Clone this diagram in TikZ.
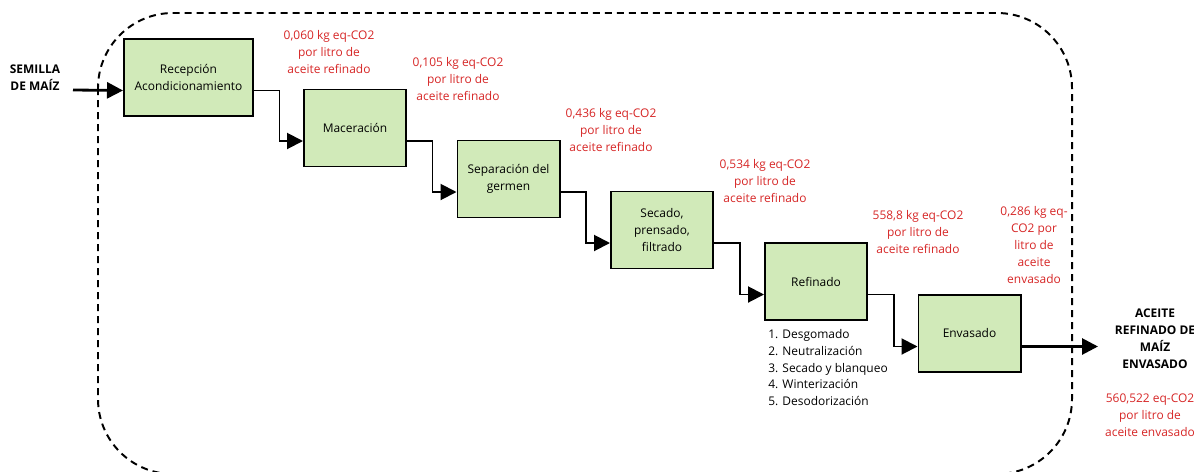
\documentclass[tikz,border=0pt]{standalone}
\usepackage{fontspec}
\setmainfont{Open Sans}
\usetikzlibrary{arrows.meta}
\definecolor{stagegreen}{RGB}{209,234,185}
\definecolor{co2red}{RGB}{214,38,38}
\tikzset{
  stage/.style={draw, line width=1.4pt, fill=stagegreen, minimum width=2.55cm, minimum height=1.925cm, align=center, font=\fontsize{8.5}{12}\selectfont},
  conn/.style={line width=1.4pt, -{Triangle[length=0.4cm,width=0.4cm]}},
  co2/.style={text=co2red, align=center, font=\fontsize{8.5}{12}\selectfont},
  endlabel/.style={align=center, font=\fontsize{8.5}{12}\selectfont\bfseries},
  frame/.style={line width=1.4pt, dash pattern=on 0.175cm off 0.125cm, rounded corners=1.875cm}
}
\begin{document}
\begin{tikzpicture}[x=0.025cm, y=-0.025cm]
\useasboundingbox (0,0) rectangle (1194,472);

\begin{scope}
\clip (0,0) rectangle (1194,472);
\draw [frame] (98,13) rectangle (1072,474);
\end{scope}

\node [stage, minimum width=3.225cm] (rec) at (188.5,77.5) {Recepción\\Acondicionamiento};
\node [stage] (mac) at (355,128) {Maceración};
\node [stage] (sep) at (508.5,179) {Separación del\\germen};
\node [stage] (sec) at (662,230) {Secado,\\prensado,\\filtrado};
\node [stage] (ref) at (816,281.5) {Refinado};
\node [stage] (env) at (969.5,333.5) {Envasado};

\coordinate (rec-i) at ([yshift=-0.325cm]rec.west);
\coordinate (rec-o) at ([yshift=-0.325cm]rec.east);
\coordinate (mac-i) at ([yshift=-0.325cm]mac.west);
\coordinate (mac-o) at ([yshift=-0.325cm]mac.east);
\coordinate (sep-i) at ([yshift=-0.325cm]sep.west);
\coordinate (sep-o) at ([yshift=-0.325cm]sep.east);
\coordinate (sec-i) at ([yshift=-0.325cm]sec.west);
\coordinate (sec-o) at ([yshift=-0.325cm]sec.east);
\coordinate (ref-i) at ([yshift=-0.325cm]ref.west);
\coordinate (ref-o) at ([yshift=-0.325cm]ref.east);
\coordinate (env-i) at ([yshift=-0.325cm]env.west);
\coordinate (env-o) at ([yshift=-0.325cm]env.east);

\draw [conn] (rec-o) -- ++(25.5,0) |- (mac-i);
\draw [conn] (mac-o) -- ++(25.5,0) |- (sep-i);
\draw [conn] (sep-o) -- ++(25.5,0) |- (sec-i);
\draw [conn] (sec-o) -- ++(26,0) |- (ref-i);
\draw [conn] (ref-o) -- ++(26,0) |- (env-i);

% entrada y salida
\node [endlabel] (seed) at (35,77.5) {SEMILLA\\DE MAÍZ};
\coordinate (in) at (73,90);
\draw [conn, line width=2pt] (in) -- (rec-i);
\coordinate (out) at (1098,346.5);
\draw [conn, line width=2pt] (env-o) -- (out);
\node [endlabel] (oil) at (1155,339) {ACEITE\\REFINADO DE\\MAÍZ\\ENVASADO};
\node [co2] (total) at (1150,415) {560,522 eq-CO2\\por litro de\\aceite envasado};

% huella por etapa
\node [co2] (c1) at (329,52) {0,060 kg eq-CO2\\por litro de\\aceite refinado};
\node [co2] (c2) at (458,79) {0,105 kg eq-CO2\\por litro de\\aceite refinado};
\node [co2] (c3) at (611,130) {0,436 kg eq-CO2\\por litro de\\aceite refinado};
\node [co2] (c4) at (765,181) {0,534 kg eq-CO2\\por litro de\\aceite refinado};
\node [co2] (c5) at (918,232) {558,8 kg eq-CO2\\por litro de\\aceite refinado};
\node [co2] (c6) at (1034,245) {0,286 kg eq-\\CO2 por\\litro de\\aceite\\envasado};

\node [anchor=north west, align=left, inner sep=0, font=\fontsize{8.5}{12}\selectfont] (steps) at ([xshift=0.1cm,yshift=-0.2cm]ref.south west) {1. Desgomado\\2. Neutralización\\3. Secado y blanqueo\\4. Winterización\\5. Desodorización};
\end{tikzpicture}
\end{document}
